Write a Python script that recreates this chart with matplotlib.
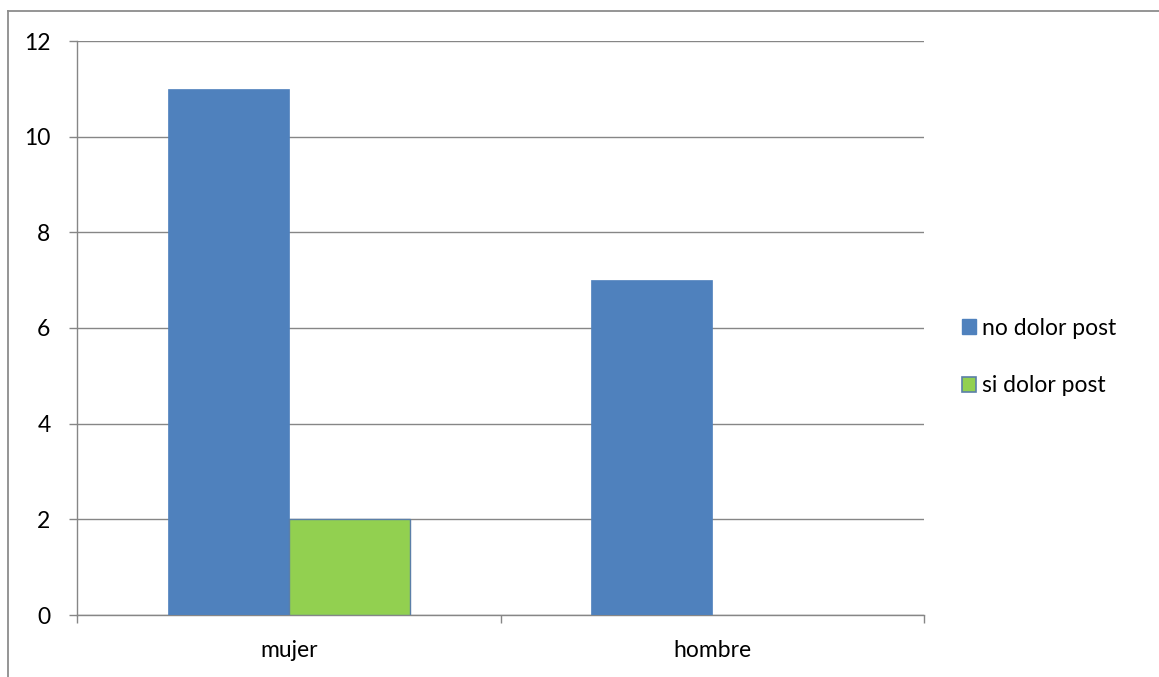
import matplotlib
matplotlib.use("Agg")
import matplotlib.pyplot as plt
from matplotlib.patches import Rectangle
from matplotlib.lines import Line2D
import numpy as np

categories = ["mujer", "hombre"]
series_names = ["no dolor post", "si dolor post"]
no_dolor = [11, 7]
si_dolor = [2, 0]
y_ticks = [0, 2, 4, 6, 8, 10, 12]

plt.rcParams['font.family'] = ['Lato', 'DejaVu Sans']
FS = 16.5

W, H = 1159, 677
fig = plt.figure(figsize=(W / 100, H / 100), dpi=100)

# outer chart frame (top and left edges)
fig.add_artist(Line2D([8 / W, 1.0], [1 - 10.5 / H, 1 - 10.5 / H], color="#8c8c8c", lw=1.3))
fig.add_artist(Line2D([8 / W, 8 / W], [0, 1 - 10.5 / H], color="#8c8c8c", lw=1.3))

left, right, top, bottom = 77, 924, 41, 615
ax = fig.add_axes([left / W, 1 - bottom / H, (right - left) / W, (bottom - top) / H])

grid_c = "#868686"
x = np.arange(len(categories))
w = 1 / 3.5
b1 = ax.bar(x - w / 2, no_dolor, width=w, color="#4f81bd", edgecolor="#4f81bd", lw=0.5, zorder=3,
            label=series_names[0])
b2 = ax.bar(x + w / 2, si_dolor, width=w, color="#92d050", edgecolor="#5b7fa8", lw=1.0, zorder=3,
            label=series_names[1])
for bars in (b1, b2):
    for p in bars:
        if p.get_height() == 0:
            p.set_visible(False)

ax.set_xlim(-0.5, 1.5)
ax.set_ylim(0, 12)
ax.set_yticks(y_ticks)
ax.set_yticklabels([str(v) for v in y_ticks], fontsize=FS)
ax.yaxis.grid(True, color=grid_c, lw=1)
ax.set_axisbelow(True)

ax.set_xticks(x)
ax.set_xticklabels(categories, fontsize=FS)
ax.tick_params(axis="x", length=0, pad=18)
ax.set_xticks([-0.5, 0.5, 1.5], minor=True)
ax.tick_params(axis="x", which="minor", length=6, color=grid_c, width=1)
ax.tick_params(axis="y", length=6, color=grid_c, width=1, pad=13)

for s in ["top", "right"]:
    ax.spines[s].set_visible(False)
for s in ["left", "bottom"]:
    ax.spines[s].set_color(grid_c)
    ax.spines[s].set_linewidth(1)

handles = [Rectangle((0, 0), 1, 1, facecolor="#4f81bd", edgecolor="#4f81bd"),
           Rectangle((0, 0), 1, 1, facecolor="#92d050", edgecolor="#5b7fa8", lw=1.2)]
leg = fig.legend(handles, series_names, loc="center left",
                 bbox_to_anchor=(946 / W, 1 - 357 / H), frameon=False, fontsize=FS,
                 handlelength=0.6, handleheight=0.6, handletextpad=0.25, labelspacing=1.6,
                 borderpad=0.2)

fig.savefig("out.png", dpi=100)
